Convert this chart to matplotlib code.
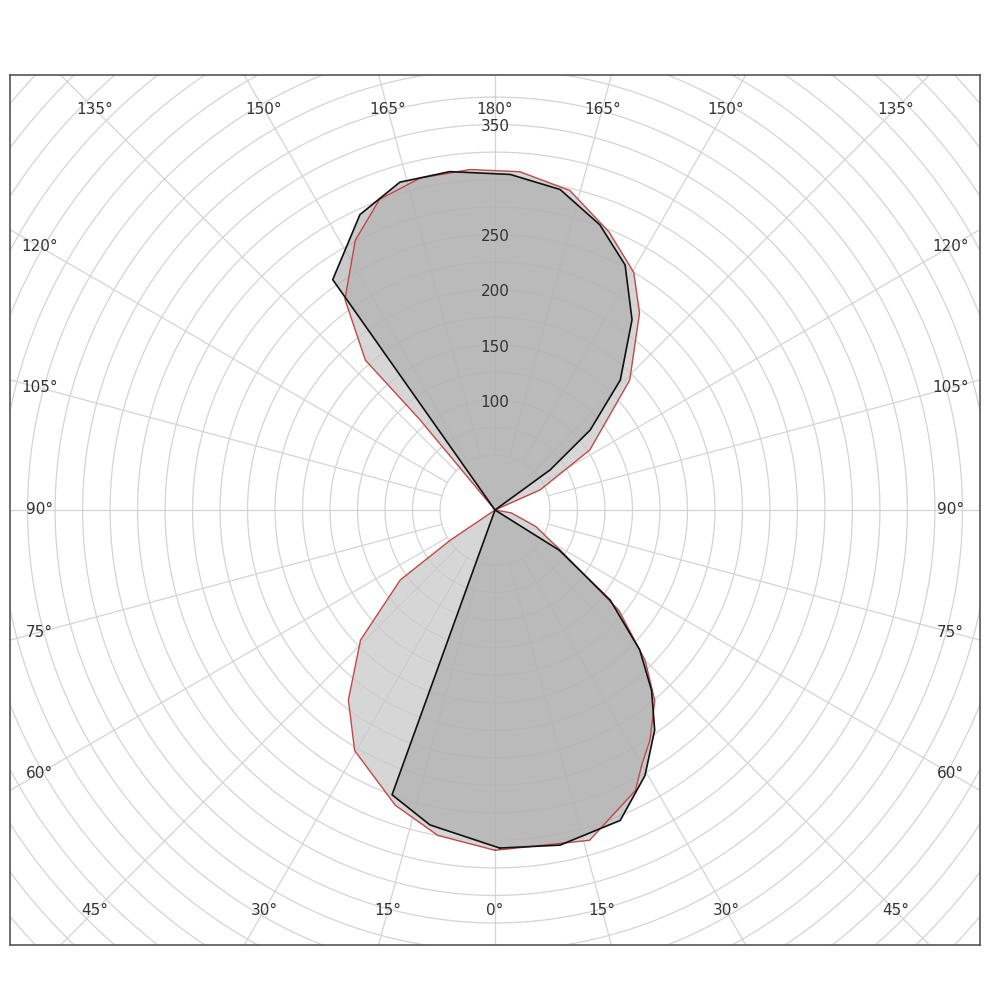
import numpy as np
import matplotlib
matplotlib.use("Agg")
import matplotlib.pyplot as plt

# Polar angle theta in degrees measured from nadir (down), counterclockwise toward right; radii in cd
red_theta = [0, 16, 26.6, 30, 34, 40, 45, 51, 58, 68, 80, 90,
             114, 122.3, 133.9, 143.7, 149.7, 157.7, 166.8, 175.8, 184.2, 192.7, 200.4, 207.4, 215.5, 220.9, 219.8, 219.8,
             270, 304, 306.4, 314, 322.3, 329.7, 341.3, 350]
red_r = [309, 312, 285, 267, 252, 226, 193, 145, 72, 40, 15, 0,
         45, 102, 170, 222, 250, 273, 298, 308, 310, 309, 301, 276, 235, 180, 107, 35,
         0, 49, 107, 170, 218, 253, 283, 300]
black_theta = [0.8, 11, 22, 29.5, 36, 41, 46, 52, 58, 90,
               126, 130, 136, 144.2, 152, 159.8, 168.5, 177.4, 187.6, 196.2, 204.6, 215.2, 215.2,
               340.1, 348.3]
black_r = [307, 310, 304, 277, 247, 217, 183, 133, 69, 0,
           62, 113, 164, 213, 252, 276, 297, 305, 310, 310, 295, 256, 0,
           275, 292]
ring_labels = [100, 150, 200, 250, 350]

fig = plt.figure(figsize=(10, 10), dpi=100)
ax = fig.add_axes([0.01, 0.055, 0.97, 0.87])
ax.set_xlim(-441, 441)
ax.set_ylim(-395, 395)
ax.set_xticks([]); ax.set_yticks([])
for s in ax.spines.values():
    s.set_color('#555555'); s.set_linewidth(1.2)

gc = '#d4d4d4'
t = np.linspace(0, 2*np.pi, 400)
for rr in range(50, 650, 25):
    ax.plot(rr*np.sin(t), rr*np.cos(t), color=gc, lw=0.9, zorder=1)
for a in range(0, 360, 15):
    th = np.radians(a)
    ax.plot([50*np.sin(th), 700*np.sin(th)], [-50*np.cos(th), -700*np.cos(th)], color=gc, lw=0.9, zorder=1)

def xy(th, r):
    th = np.radians(np.array(th)); r = np.array(r)
    return r*np.sin(th), -r*np.cos(th)

rx, ry = xy(red_theta, red_r)
bx, by = xy(black_theta, black_r)
ax.fill(rx, ry, color='#c9c9c9', alpha=0.75, zorder=2, lw=0)
ax.fill(bx, by, color='#a8a8a8', alpha=0.6, zorder=3, lw=0)
ax.plot(np.append(rx, rx[0]), np.append(ry, ry[0]), color='#c04848', lw=1.0, zorder=4)
ax.plot(np.append(bx, bx[0]), np.append(by, by[0]), color='#111111', lw=1.2, zorder=5)

hw, hh = 414, 364
for a in range(0, 360, 15):
    th = np.radians(a)
    dx, dy = np.sin(th), -np.cos(th)
    s = min(hw/abs(dx) if abs(dx) > 1e-9 else 1e9, hh/abs(dy) if abs(dy) > 1e-9 else 1e9)
    lab = a if a <= 180 else 360 - a
    ax.text(dx*s, dy*s, f"{lab}°", ha='center', va='center', fontsize=11, color='#333333', zorder=6)

for v in ring_labels:
    ax.text(0, v - 2, str(v), ha='center', va='center', fontsize=11, color='#333333', zorder=6)

fig.savefig("out.png", dpi=100)
